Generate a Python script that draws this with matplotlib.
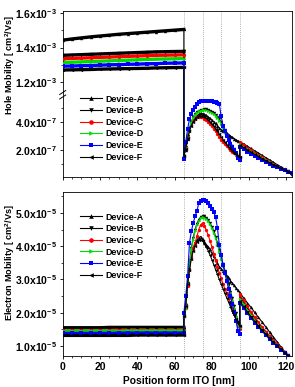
import matplotlib.pyplot as plt
from matplotlib.lines import Line2D
import numpy as np

plt.rcParams['font.family'] = ['Liberation Sans', 'DejaVu Sans']
plt.rcParams['font.weight'] = 'bold'
plt.rcParams['mathtext.fontset'] = 'custom'
plt.rcParams['mathtext.rm'] = 'Liberation Sans:bold'
plt.rcParams['mathtext.it'] = 'Liberation Sans:bold'
plt.rcParams['mathtext.bf'] = 'Liberation Sans:bold'

devices = ['Device-A', 'Device-B', 'Device-C', 'Device-D', 'Device-E', 'Device-F']
colors = ['black', 'black', '#ff0000', '#00dd00', '#0000ff', 'black']
markers = ['^', 'v', 'o', '>', 's', '<']

# positions [nm]: HTL, emission layers, ETL
x_htl = [0, 5, 10, 15, 20, 25, 30, 35, 40, 45, 50, 55, 60, 65]
x_eml = list(range(65, 96))
x_etl = list(range(95, 124, 2))
interfaces = [65, 75, 85, 95]

# hole mobility, HTL part in 1e-3 cm2/Vs
hole_htl = [
    [1.443, 1.450, 1.456, 1.462, 1.467, 1.472, 1.477, 1.481, 1.485, 1.489, 1.493, 1.497, 1.501, 1.505],
    [1.355, 1.357, 1.359, 1.361, 1.363, 1.365, 1.367, 1.369, 1.371, 1.373, 1.375, 1.376, 1.377, 1.378],
    [1.335, 1.337, 1.339, 1.341, 1.343, 1.345, 1.347, 1.349, 1.351, 1.353, 1.355, 1.356, 1.357, 1.358],
    [1.313, 1.315, 1.317, 1.319, 1.321, 1.323, 1.325, 1.327, 1.329, 1.331, 1.333, 1.334, 1.335, 1.336],
    [1.292, 1.293, 1.295, 1.296, 1.298, 1.300, 1.301, 1.303, 1.304, 1.306, 1.307, 1.309, 1.310, 1.311],
    [1.270, 1.271, 1.272, 1.273, 1.275, 1.276, 1.277, 1.278, 1.279, 1.280, 1.282, 1.283, 1.284, 1.285],
]
# hole mobility, emission layers in 1e-7 cm2/Vs (x = 65..95)
hole_eml = [
    [1.70, 2.00, 2.80, 3.40, 3.80, 4.10, 4.30, 4.45, 4.55, 4.62, 4.60, 4.55, 4.47, 4.38, 4.26, 4.13,
     4.02, 3.90, 3.74, 3.58, 3.45, 3.36, 3.27, 3.18, 3.09, 3.00, 2.91, 2.82, 2.73, 2.65, 2.60],
    [1.55, 2.24, 3.00, 3.55, 4.00, 4.35, 4.57, 4.72, 4.81, 4.86, 4.89, 4.90, 4.90, 4.86, 4.80, 4.74,
     4.65, 4.53, 4.38, 4.20, 3.98, 3.72, 3.40, 3.10, 2.80, 2.52, 2.30, 2.05, 1.80, 1.55, 1.41],
    [1.60, 2.24, 2.95, 3.45, 3.85, 4.10, 4.25, 4.33, 4.37, 4.38, 4.33, 4.24, 4.12, 3.98, 3.83, 3.69,
     3.52, 3.34, 3.14, 2.94, 2.74, 2.55, 2.40, 2.26, 2.13, 2.00, 1.88, 1.77, 1.66, 1.56, 1.50],
    [1.50, 2.20, 2.95, 3.50, 3.95, 4.30, 4.52, 4.67, 4.76, 4.81, 4.84, 4.85, 4.84, 4.80, 4.74, 4.67,
     4.57, 4.44, 4.28, 4.10, 3.88, 3.60, 3.30, 3.00, 2.72, 2.46, 2.22, 1.98, 1.74, 1.50, 1.38],
    [1.35, 2.59, 3.50, 4.20, 4.60, 4.88, 5.10, 5.30, 5.43, 5.50, 5.52, 5.52, 5.52, 5.51, 5.50, 5.48,
     5.45, 5.42, 5.38, 5.30, 4.40, 3.75, 3.35, 3.00, 2.70, 2.45, 2.22, 2.00, 1.75, 1.45, 1.29],
    [1.60, 2.10, 2.85, 3.35, 3.75, 4.02, 4.20, 4.33, 4.41, 4.45, 4.43, 4.37, 4.28, 4.16, 4.02, 3.87,
     3.70, 3.52, 3.33, 3.13, 2.93, 2.74, 2.56, 2.39, 2.23, 2.08, 1.94, 1.81, 1.69, 1.58, 1.48],
]
# hole mobility, ETL in 1e-7 cm2/Vs (x = 95..123 step 2)
hole_etl = [
    [2.60, 2.44, 2.27, 2.11, 1.94, 1.78, 1.62, 1.45, 1.29, 1.12, 0.96, 0.80, 0.63, 0.47, 0.30],
    [2.48, 2.30, 2.12, 1.94, 1.77, 1.60, 1.44, 1.29, 1.14, 1.00, 0.86, 0.73, 0.60, 0.47, 0.35],
    [2.55, 2.36, 2.17, 1.99, 1.81, 1.64, 1.48, 1.32, 1.17, 1.02, 0.88, 0.74, 0.61, 0.48, 0.35],
    [2.40, 2.23, 2.06, 1.89, 1.73, 1.57, 1.42, 1.27, 1.12, 0.98, 0.85, 0.72, 0.60, 0.47, 0.35],
    [2.24, 2.06, 1.88, 1.71, 1.55, 1.40, 1.26, 1.12, 0.99, 0.87, 0.76, 0.65, 0.54, 0.44, 0.34],
    [2.35, 2.18, 2.01, 1.85, 1.69, 1.54, 1.39, 1.24, 1.10, 0.96, 0.83, 0.70, 0.58, 0.46, 0.34],
]

# electron mobility in 1e-5 cm2/Vs
elec_htl = [
    [1.55, 1.55, 1.55, 1.55, 1.55, 1.56, 1.56, 1.56, 1.56, 1.56, 1.56, 1.56, 1.56, 1.56],
    [1.35, 1.35, 1.35, 1.35, 1.35, 1.35, 1.35, 1.36, 1.36, 1.36, 1.36, 1.36, 1.36, 1.36],
    [1.47, 1.47, 1.47, 1.47, 1.47, 1.47, 1.48, 1.48, 1.48, 1.48, 1.48, 1.48, 1.48, 1.48],
    [1.46, 1.46, 1.46, 1.46, 1.46, 1.46, 1.46, 1.47, 1.47, 1.47, 1.47, 1.47, 1.47, 1.47],
    [1.38, 1.38, 1.38, 1.38, 1.38, 1.38, 1.39, 1.39, 1.39, 1.39, 1.39, 1.39, 1.39, 1.39],
    [1.32, 1.32, 1.32, 1.32, 1.32, 1.32, 1.32, 1.32, 1.33, 1.33, 1.33, 1.33, 1.33, 1.33],
]
elec_eml = [
    [1.90, 2.28, 2.90, 3.38, 3.70, 3.94, 4.10, 4.19, 4.26, 4.29, 4.22, 4.13, 4.05, 3.99, 3.91, 3.79,
     3.70, 3.60, 3.49, 3.39, 3.33, 3.26, 3.19, 3.11, 3.04, 2.96, 2.89, 2.82, 2.74, 2.67, 2.60],
    [1.90, 2.14, 2.90, 3.45, 3.95, 4.25, 4.50, 4.68, 4.80, 4.88, 4.91, 4.90, 4.86, 4.79, 4.70, 4.58,
     4.45, 4.29, 4.10, 3.88, 3.68, 3.47, 3.27, 3.06, 2.85, 2.63, 2.43, 2.20, 1.98, 1.72, 1.60],
    [1.90, 2.14, 2.80, 3.30, 3.70, 3.95, 4.10, 4.30, 4.50, 4.65, 4.69, 4.62, 4.48, 4.34, 4.17, 3.99,
     3.78, 3.58, 3.38, 3.20, 3.03, 2.86, 2.72, 2.58, 2.43, 2.28, 2.12, 1.95, 1.78, 1.60, 1.50],
    [1.90, 2.10, 2.85, 3.40, 3.90, 4.20, 4.45, 4.64, 4.76, 4.84, 4.87, 4.86, 4.82, 4.75, 4.66, 4.54,
     4.40, 4.24, 4.05, 3.84, 3.63, 3.42, 3.20, 2.98, 2.77, 2.56, 2.35, 2.13, 1.90, 1.66, 1.55],
    [2.00, 2.50, 3.10, 4.10, 4.45, 4.69, 4.90, 5.06, 5.30, 5.37, 5.39, 5.39, 5.37, 5.30, 5.20, 5.12,
     5.02, 4.88, 4.55, 4.05, 3.75, 3.44, 3.20, 2.95, 2.72, 2.50, 2.25, 2.02, 1.75, 1.45, 1.35],
    [1.90, 2.20, 2.85, 3.30, 3.62, 3.86, 4.02, 4.12, 4.18, 4.20, 4.16, 4.08, 3.98, 3.87, 3.74, 3.60,
     3.45, 3.30, 3.15, 3.00, 2.86, 2.72, 2.58, 2.45, 2.32, 2.18, 2.05, 1.92, 1.80, 1.68, 1.60],
]
elec_etl = [
    [2.60, 2.45, 2.30, 2.16, 2.01, 1.86, 1.72, 1.57, 1.42, 1.27, 1.13, 0.98, 0.83, 0.69, 0.54],
    [2.50, 2.32, 2.15, 1.99, 1.84, 1.69, 1.55, 1.42, 1.29, 1.17, 1.05, 0.94, 0.83, 0.72, 0.62],
    [2.55, 2.37, 2.20, 2.03, 1.87, 1.72, 1.57, 1.43, 1.30, 1.17, 1.05, 0.94, 0.83, 0.72, 0.62],
    [2.42, 2.25, 2.09, 1.93, 1.78, 1.64, 1.50, 1.37, 1.25, 1.13, 1.02, 0.91, 0.81, 0.71, 0.61],
    [2.30, 2.14, 1.99, 1.84, 1.70, 1.57, 1.44, 1.32, 1.20, 1.09, 0.99, 0.89, 0.79, 0.70, 0.60],
    [2.35, 2.19, 2.03, 1.88, 1.74, 1.60, 1.47, 1.35, 1.23, 1.11, 1.00, 0.90, 0.80, 0.70, 0.60],
]

fig = plt.figure(figsize=(2.95, 3.87), dpi=100)
L, W = 62.7 / 295, 229.3 / 295
ax_hi = fig.add_axes([L, 1 - 95 / 387, W, 84 / 387])
ax_lo = fig.add_axes([L, 1 - 177 / 387, W, 82 / 387])
ax_el = fig.add_axes([L, 1 - 356 / 387, W, 164 / 387])


def draw(ax, htl, eml, etl, s_htl, s_rest):
    for i in range(6):
        c, m = colors[i], markers[i]
        # thick band for the flat HTL part
        ax.plot(x_htl, np.array(htl[i]) * s_htl, color=c, lw=2.4, zorder=2)
        xs = x_htl + x_eml + x_etl
        ys = np.concatenate([np.array(htl[i]) * s_htl,
                             np.array(eml[i]) * s_rest,
                             np.array(etl[i]) * s_rest])
        ax.plot(xs, ys, color=c, lw=0.8, marker=m, ms=2.4, mew=0, zorder=3)


draw(ax_hi, hole_htl, hole_eml, hole_etl, 1e-3, 1e-7)
draw(ax_lo, hole_htl, hole_eml, hole_etl, 1e-3, 1e-7)
draw(ax_el, elec_htl, elec_eml, elec_etl, 1e-5, 1e-5)

for ax in (ax_hi, ax_lo, ax_el):
    ax.set_xlim(0, 123)
    for v in interfaces:
        ax.axvline(v, color='#999999', lw=0.6, ls=(0, (1, 1.5)), zorder=1)
    for sp in ax.spines.values():
        sp.set_linewidth(0.6)
    ax.set_xticks(range(0, 121, 20))
    ax.set_xticks(range(0, 121, 5), minor=True)
    ax.tick_params(which='major', direction='out', length=2.5, width=0.6, labelsize=7.5, pad=1.5)
    ax.tick_params(which='minor', direction='out', length=1.4, width=0.5)

ax_hi.set_ylim(1.125e-3, 1.612e-3)
ax_hi.set_yticks([1.2e-3, 1.4e-3, 1.6e-3])
ax_hi.set_yticks([1.3e-3, 1.5e-3], minor=True)
ax_hi.set_yticklabels(['1.2x10$^{-3}$', '1.4x10$^{-3}$', '1.6x10$^{-3}$'])
ax_hi.spines['bottom'].set_visible(False)
ax_hi.tick_params(axis='x', which='both', bottom=False, labelbottom=False)

ax_lo.set_ylim(0.07e-7, 5.93e-7)
ax_lo.set_yticks([2e-7, 4e-7])
ax_lo.set_yticks([1e-7, 3e-7, 5e-7], minor=True)
ax_lo.set_yticklabels(['2.0x10$^{-7}$', '4.0x10$^{-7}$'])
ax_lo.spines['top'].set_visible(False)
ax_lo.tick_params(axis='x', which='both', labelbottom=False)

ax_el.set_ylim(0.70e-5, 5.63e-5)
ax_el.set_yticks([1e-5, 2e-5, 3e-5, 4e-5, 5e-5])
ax_el.set_yticks([1.5e-5, 2.5e-5, 3.5e-5, 4.5e-5, 5.5e-5], minor=True)
ax_el.set_yticklabels(['%.1fx10$^{-5}$' % v for v in [1, 2, 3, 4, 5]])

# axis break marks on the left spine
for yb in (92.5, 97.0):
    fig.add_artist(Line2D([(L * 295 - 3) / 295, (L * 295 + 3) / 295],
                          [1 - (yb + 2) / 387, 1 - (yb - 2) / 387],
                          color='black', lw=0.7))

handles = [Line2D([], [], color=colors[i], lw=0.8, marker=markers[i], ms=3.3, mew=0)
           for i in range(6)]
for ax, ytop in ((ax_lo, 94.5), (ax_el, 212.5)):
    ax.legend(handles, devices, loc='upper left', bbox_to_anchor=(80 / 295, 1 - ytop / 387),
              bbox_transform=fig.transFigure, frameon=False, fontsize=6.4,
              handlelength=2.5, handletextpad=0.35, labelspacing=0.3,
              borderpad=0, borderaxespad=0, numpoints=1)

fig.text(10 / 295, 1 - 65 / 387, 'Hole Mobility [ cm$^{2}$/Vs]', rotation=90,
         ha='center', va='center', fontsize=6.6)
fig.text(10 / 295, 1 - 263 / 387, 'Electron Mobility [ cm$^{2}$/Vs]', rotation=90,
         ha='center', va='center', fontsize=6.6)
fig.text(178.5 / 295, 1 - 381 / 387, 'Position form ITO [nm]', ha='center', va='center',
         fontsize=7.4)

fig.savefig('out.png', dpi=100)
